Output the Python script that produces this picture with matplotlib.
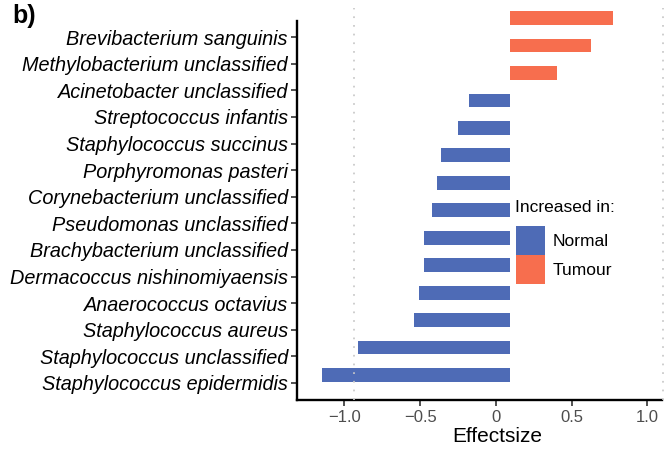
import matplotlib
matplotlib.use("Agg")
import matplotlib.pyplot as plt
from matplotlib.patches import Patch

# taxa, top to bottom as in the figure
taxa = ["Brevibacterium sanguinis", "Methylobacterium unclassified",
        "Acinetobacter unclassified", "Streptococcus infantis",
        "Staphylococcus succinus", "Porphyromonas pasteri",
        "Corynebacterium unclassified", "Pseudomonas unclassified",
        "Brachybacterium unclassified", "Dermacoccus nishinomiyaensis",
        "Anaerococcus octavius", "Staphylococcus aureus",
        "Staphylococcus unclassified", "Staphylococcus epidermidis"]
effectsize = [0.77, 0.63, 0.40, -0.18, -0.25, -0.36, -0.39, -0.42,
              -0.475, -0.475, -0.51, -0.54, -0.91, -1.15]
increased_in = ["Tumour", "Tumour", "Tumour"] + ["Normal"] * 11
bar_base = 0.09

colors = {"Normal": "#4E6BB6", "Tumour": "#F76E4E"}
x_ticks = [-1.0, -0.5, 0, 0.5, 1.0]
x_ticklabels = ["\u22121.0", "\u22120.5", "0", "0.5", "1.0"]
ref_lines = [-0.94, 1.105]

plt.rcParams["font.family"] = ["Liberation Sans", "DejaVu Sans"]

fig = plt.figure(figsize=(6.69, 4.49), dpi=100)
ax = fig.add_axes([297 / 669, 1 - 400 / 449, (662 - 297) / 669, (400 - 6) / 449])
ax2 = ax.twinx()

n = len(taxa)
pos = list(range(n))[::-1]

# label axis
ax.set_xlim(-1.313, 1.096)
ax.set_ylim(-0.64, 14.17)
ax.set_yticks(pos)
ax.set_yticklabels(taxa, fontsize=14.3, style="italic", color="black")
ax.set_xticks(x_ticks)
ax.set_xticklabels(x_ticklabels, fontsize=12, color="#4D4D4D")
ax.set_xlabel("Effectsize", fontsize=15)
ax.xaxis.set_label_coords((497 - 297) / (662 - 297), -(427 - 400) / 394, transform=ax.transAxes)
for s in ["top", "right"]:
    ax.spines[s].set_visible(False)
ax.spines["left"].set_linewidth(1.7)
ax.spines["bottom"].set_linewidth(1.7)
ax.spines["left"].set_bounds(-0.64, 13.6)
ax.tick_params(axis="both", length=4.5, width=1.2, color="#333333", pad=2)
ax.tick_params(axis="x", pad=3)

# bar axis
ax2.set_ylim(-0.91, 13.44)
ax2.axis("off")
widths = [v - bar_base for v in effectsize]
ax2.barh(pos, widths, left=bar_base, height=0.5,
         color=[colors[g] for g in increased_in], zorder=2)
for xv in ref_lines:
    ax2.axvline(xv, ymax=0.995, color="#C8C8C8", lw=1.25, dashes=(1, 4), zorder=3, clip_on=False)

# legend
fig.text(515 / 669, 1 - 208 / 449, "Increased in:", fontsize=12.5, va="center", ha="left")
handles = [Patch(facecolor=colors[k], edgecolor="none", label=k) for k in ["Normal", "Tumour"]]
leg = fig.legend(handles=handles, loc="upper left",
                 bbox_to_anchor=(516 / 669, 1 - 226 / 449), frameon=False,
                 fontsize=12.5, handlelength=1.67, handleheight=2.19,
                 handletextpad=0.45, labelspacing=0.03, borderpad=0, borderaxespad=0)

fig.text(12 / 669, 1 - 4 / 449, "b)", fontsize=18, fontweight="bold", va="top", ha="left")

fig.savefig("out.png", dpi=100)
